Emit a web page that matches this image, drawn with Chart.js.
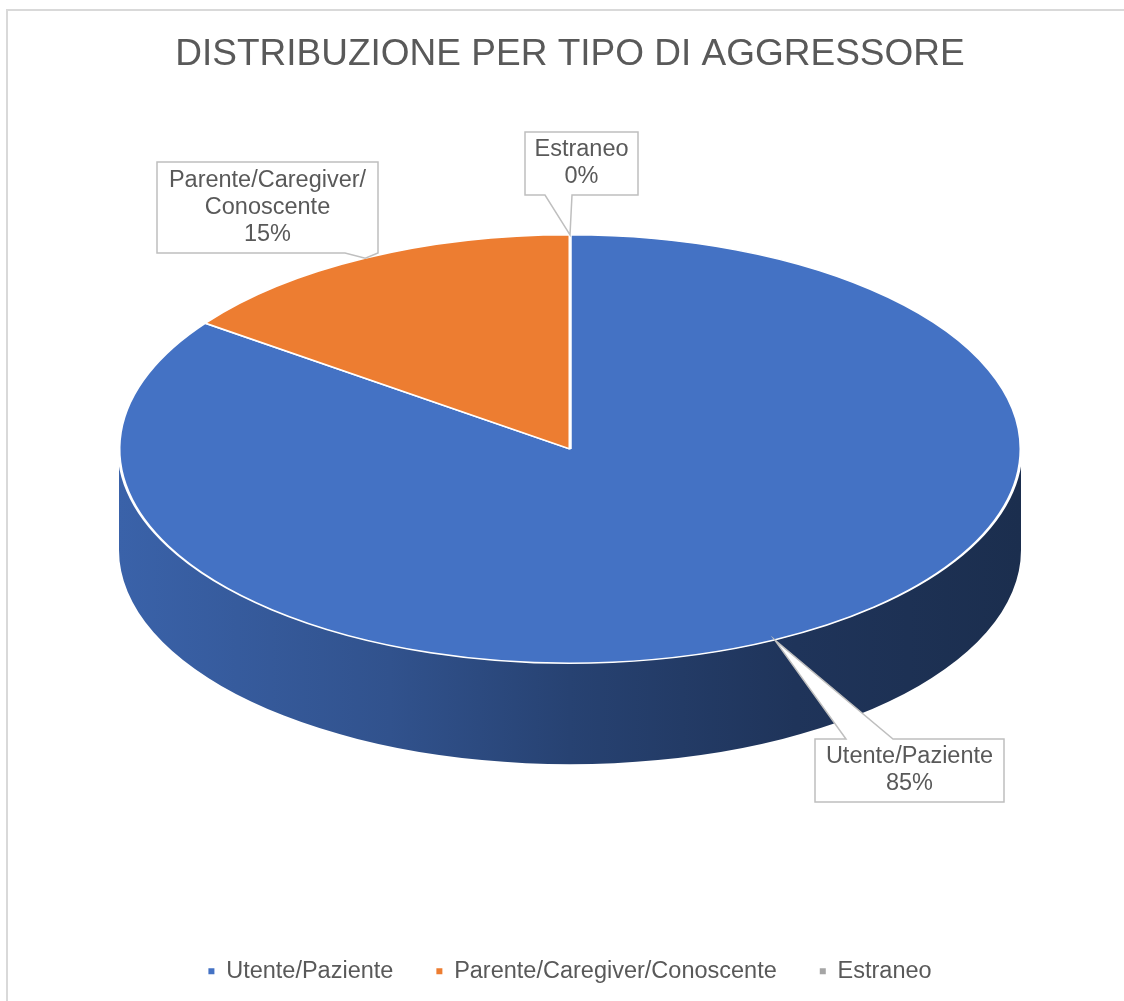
<!DOCTYPE html>
<html>
<head>
<meta charset="utf-8">
<title>Distribuzione per tipo di aggressore</title>
<script src="https://cdn.jsdelivr.net/npm/chart.js@4.4.1/dist/chart.umd.min.js"></script>
<style>
  body { margin: 0; background: #ffffff; }
  #wrap { width: 1124px; height: 1001px; }
</style>
</head>
<body>
<div id="wrap"><canvas id="pieChart" width="1124" height="1001"></canvas></div>
<script>
// data
const chartTitle = 'DISTRIBUZIONE PER TIPO DI AGGRESSORE';
const categories = ['Utente/Paziente', 'Parente/Caregiver/Conoscente', 'Estraneo'];
const percentages = [85, 15, 0];
const sliceColors = ['#4472c4', '#ed7d31', '#a5a5a5'];

const FONT = '"Liberation Sans", Arial, sans-serif';
const TEXT_COLOR = '#595959';

// darken a hex colour by factor f
function shade(hex, f) {
    const n = parseInt(hex.slice(1), 16);
    const r = Math.round(((n >> 16) & 255) * f);
    const g = Math.round(((n >> 8) & 255) * f);
    const b = Math.round((n & 255) * f);
    return 'rgb(' + r + ',' + g + ',' + b + ')';
}

// break a label after '/' so that it fits maxWidth
function wrapLabel(ctx, text, maxWidth) {
    const parts = text.split(/(?<=\/)/);
    const lines = [];
    let cur = '';
    parts.forEach(function(p) {
        if (cur && ctx.measureText(cur + p).width > maxWidth) {
            lines.push(cur);
            cur = p;
        } else {
            cur += p;
        }
    });
    if (cur) lines.push(cur);
    return lines;
}

// frame around the chart like the office chart border
const framePlugin = {
    id: 'frame',
    beforeDraw(chart) {
        const ctx = chart.ctx;
        ctx.save();
        ctx.fillStyle = '#ffffff';
        ctx.fillRect(0, 0, chart.width, chart.height);
        ctx.strokeStyle = '#d9d9d9';
        ctx.lineWidth = 2;
        ctx.beginPath();
        ctx.moveTo(7, chart.height);
        ctx.lineTo(7, 10);
        ctx.lineTo(chart.width, 10);
        ctx.stroke();
        ctx.restore();
    }
};

// tilts the pie into an ellipse, adds the side wall and the callout labels
const pie3dPlugin = {
    id: 'pie3d',
    beforeDatasetsDraw(chart, args, opts) {
        const ctx = chart.ctx;
        const arcs = chart.getDatasetMeta(0).data;
        const r = arcs[0].outerRadius;
        const cx = opts.cx, cy = opts.cy, ry = r * opts.tilt, d = opts.depth;

        ctx.save();
        arcs.forEach(function(arc, i) {
            const a0 = arc.startAngle, a1 = arc.endAngle;
            for (let k = -1; k <= 1; k++) {
                const lo = Math.max(a0, 2 * Math.PI * k);
                const hi = Math.min(a1, Math.PI + 2 * Math.PI * k);
                if (hi <= lo) continue;
                const base = sliceColors[i];
                const grad = ctx.createLinearGradient(cx - r, 0, cx + r, 0);
                grad.addColorStop(0, shade(base, 0.86));
                grad.addColorStop(0.3, shade(base, 0.72));
                grad.addColorStop(0.5, shade(base, 0.58));
                grad.addColorStop(0.75, shade(base, 0.46));
                grad.addColorStop(1, shade(base, 0.40));
                ctx.beginPath();
                ctx.ellipse(cx, cy, r, ry, 0, lo, hi, false);
                ctx.lineTo(cx + r * Math.cos(hi), cy + d + ry * Math.sin(hi));
                ctx.ellipse(cx, cy + d, r, ry, 0, hi, lo, true);
                ctx.closePath();
                ctx.fillStyle = grad;
                ctx.fill();
            }
        });
        ctx.restore();

        // the top face: the library's arcs squashed vertically
        ctx.save();
        ctx.translate(cx, cy);
        ctx.scale(1, opts.tilt);
        ctx.translate(-arcs[0].x, -arcs[0].y);
    },
    afterDatasetsDraw(chart, args, opts) {
        const ctx = chart.ctx;
        ctx.restore();

        const arcs = chart.getDatasetMeta(0).data;
        const values = chart.data.datasets[0].data;
        const r = arcs[0].outerRadius;
        const cx = opts.cx, cy = opts.cy, ry = r * opts.tilt;

        ctx.save();
        ctx.font = opts.fontSize + 'px ' + FONT;
        arcs.forEach(function(arc, i) {
            const box = opts.boxes[i];
            const mid = (arc.startAngle + arc.endAngle) / 2;
            const tx = cx + r * Math.cos(mid);
            const ty = cy + ry * Math.sin(mid);
            const x = box.x, y = box.y, w = box.w, h = box.h;

            ctx.beginPath();
            if (box.side === 'top') {
                ctx.moveTo(x, y);
                ctx.lineTo(box.p0, y);
                ctx.lineTo(tx, ty);
                ctx.lineTo(box.p1, y);
                ctx.lineTo(x + w, y);
                ctx.lineTo(x + w, y + h);
                ctx.lineTo(x, y + h);
            } else if (box.side === 'bottom') {
                ctx.moveTo(x, y);
                ctx.lineTo(x + w, y);
                ctx.lineTo(x + w, y + h);
                ctx.lineTo(box.p1, y + h);
                ctx.lineTo(tx, ty);
                ctx.lineTo(box.p0, y + h);
                ctx.lineTo(x, y + h);
            } else {
                ctx.moveTo(x, y);
                ctx.lineTo(x + w, y);
                ctx.lineTo(x + w, box.p0);
                ctx.lineTo(tx, ty);
                ctx.lineTo(x + w, box.p1);
                ctx.lineTo(x + w, y + h);
                ctx.lineTo(x, y + h);
            }
            ctx.closePath();
            ctx.fillStyle = '#ffffff';
            ctx.fill();
            ctx.strokeStyle = '#bfbfbf';
            ctx.lineWidth = 1.5;
            ctx.stroke();

            const lines = wrapLabel(ctx, chart.data.labels[i], w - 4);
            lines.push(values[i] + '%');
            ctx.fillStyle = TEXT_COLOR;
            ctx.textAlign = 'center';
            ctx.textBaseline = 'middle';
            const lh = opts.lineHeight;
            const y0 = y + h / 2 - (lines.length - 1) * lh / 2;
            lines.forEach(function(line, j) {
                ctx.fillText(line, x + w / 2, y0 + j * lh);
            });
        });
        ctx.restore();
    }
};

const ctx = document.getElementById('pieChart').getContext('2d');
const pieChart = new Chart(ctx, {
    type: 'pie',
    data: {
        labels: categories,
        datasets: [{
            data: percentages,
            backgroundColor: sliceColors,
            borderColor: '#ffffff',
            borderWidth: 3,
            radius: 451
        }]
    },
    options: {
        responsive: false,
        animation: false,
        devicePixelRatio: 1,
        layout: {
            padding: { left: 16, bottom: 8 }
        },
        plugins: {
            title: {
                display: true,
                text: chartTitle,
                color: TEXT_COLOR,
                font: { family: FONT, size: 37, weight: 'normal' },
                padding: { top: 33, bottom: 10 }
            },
            legend: {
                position: 'bottom',
                labels: {
                    color: TEXT_COLOR,
                    font: { family: FONT, size: 23.5 },
                    boxWidth: 6,
                    boxHeight: 6,
                    padding: 43,
                    generateLabels: function(chart) {
                        const items = Chart.overrides.pie.plugins.legend.labels.generateLabels(chart);
                        items.forEach(function(it) {
                            it.lineWidth = 0;
                            it.strokeStyle = 'rgba(0,0,0,0)';
                        });
                        return items;
                    }
                }
            },
            tooltip: { enabled: false },
            pie3d: {
                cx: 570,
                cy: 449,
                tilt: 0.475,
                depth: 101,
                fontSize: 23.5,
                lineHeight: 27,
                boxes: [
                    { x: 815, y: 739, w: 189, h: 63, side: 'top', p0: 846, p1: 893 },
                    { x: 157, y: 162, w: 221, h: 91, side: 'bottom', p0: 345, p1: 378 },
                    { x: 525, y: 132, w: 113, h: 63, side: 'bottom', p0: 545, p1: 572 }
                ]
            }
        }
    },
    plugins: [framePlugin, pie3dPlugin]
});
</script>
</body>
</html>
